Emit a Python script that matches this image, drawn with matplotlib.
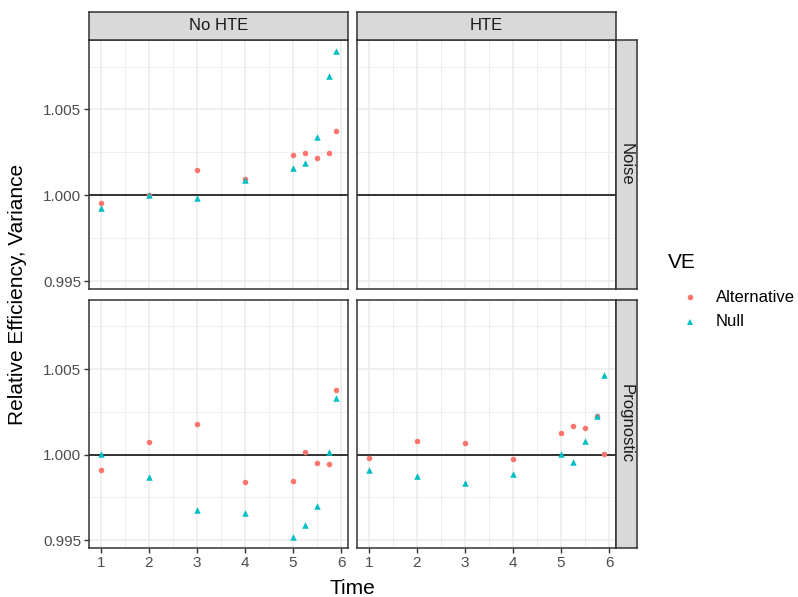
import matplotlib.pyplot as plt
import numpy as np

plt.rcParams['font.family'] = ['Liberation Sans', 'DejaVu Sans']

# time points
time = [1, 2, 3, 4, 5, 5.25, 5.5, 5.75, 5.9]

# No HTE / Noise
noise_nohte_alt = [0.99957, 1.00000, 1.00150, 1.00093, 1.00237, 1.00249, 1.00220, 1.00249, 1.00377]
noise_nohte_null = [0.99924, 1.00000, 0.99986, 1.00088, 1.00161, 1.00189, 1.00339, 1.00697, 1.00839]

# No HTE / Prognostic
prog_nohte_alt = [0.99912, 1.00076, 1.00181, 0.99842, 0.99848, 1.00018, 0.99953, 0.99947, 1.00379]
prog_nohte_null = [1.00004, 0.99868, 0.99675, 0.99660, 0.99520, 0.99586, 0.99697, 1.00018, 1.00330]

# HTE / Prognostic
prog_hte_alt = [0.99982, 1.00082, 1.00070, 0.99977, 1.00128, 1.00169, 1.00158, 1.00224, 1.00006]
prog_hte_null = [0.99912, 0.99875, 0.99837, 0.99885, 1.00006, 0.99959, 1.00078, 1.00224, 1.00469]

col_labels = ['No HTE', 'HTE']
row_labels = ['Noise', 'Prognostic']
red = '#F8766D'
cyan = '#00BFC4'

data = {
    (0, 0): (noise_nohte_alt, noise_nohte_null),
    (0, 1): None,
    (1, 0): (prog_nohte_alt, prog_nohte_null),
    (1, 1): (prog_hte_alt, prog_hte_null),
}

W, H = 798, 597
fig = plt.figure(figsize=(W / 100, H / 100), dpi=100)


def box(x0, y0, x1, y1):
    return [x0 / W, 1 - y1 / H, (x1 - x0) / W, (y1 - y0) / H]


lefts = [89, 357]
rights = [348, 616]
tops = [40, 300]
bottoms = [289, 548]

all_y = noise_nohte_alt + noise_nohte_null + prog_nohte_alt + prog_nohte_null + prog_hte_alt + prog_hte_null
ymin, ymax = min(all_y), max(all_y)
ypad = (ymax - ymin) * 0.05
xpad = (max(time) - min(time)) * 0.05

for r in range(2):
    for c in range(2):
        ax = fig.add_axes(box(lefts[c], tops[r], rights[c], bottoms[r]))
        ax.set_xlim(min(time) - xpad, max(time) + xpad)
        ax.set_ylim(ymin - ypad, ymax + ypad)
        ax.set_xticks([1, 2, 3, 4, 5, 6])
        ax.set_xticks([1.5, 2.5, 3.5, 4.5, 5.5], minor=True)
        ax.set_yticks([0.995, 1.000, 1.005])
        ax.set_yticks([0.9975, 1.0025, 1.0075], minor=True)
        ax.grid(which='major', color='#EBEBEB', linewidth=1.1)
        ax.grid(which='minor', color='#EBEBEB', linewidth=0.55)
        ax.set_axisbelow(True)
        for s in ax.spines.values():
            s.set_color('#333333')
            s.set_linewidth(1.1)
        ax.tick_params(which='minor', length=0)
        ax.tick_params(which='major', length=3.5, width=1, color='#333333',
                       labelsize=11, labelcolor='#4D4D4D', pad=2)
        if r == 0:
            ax.tick_params(labelbottom=False, bottom=False)
        if c == 1:
            ax.tick_params(labelleft=False, left=False)
        else:
            ax.set_yticklabels(['0.995', '1.000', '1.005'])
        ax.axhline(1.0, color='black', linewidth=1.1, zorder=2)
        d = data[(r, c)]
        if d is not None:
            ax.scatter(time, d[0], s=16, color=red, marker='o', linewidths=0, zorder=3)
            ax.scatter(time, d[1], s=22, color=cyan, marker='^', linewidths=0, zorder=3)

# strips on top
for c in range(2):
    sax = fig.add_axes(box(lefts[c], 12, rights[c], 40))
    sax.set_facecolor('#D9D9D9')
    sax.set_xticks([])
    sax.set_yticks([])
    for s in sax.spines.values():
        s.set_color('#333333')
        s.set_linewidth(1.1)
    sax.text(0.5, 0.5, col_labels[c], ha='center', va='center', fontsize=12, color='#1A1A1A')

# strips on right
for r in range(2):
    sax = fig.add_axes(box(616, tops[r], 637, bottoms[r]))
    sax.set_facecolor('#D9D9D9')
    sax.set_xticks([])
    sax.set_yticks([])
    for s in sax.spines.values():
        s.set_color('#333333')
        s.set_linewidth(1.1)
    sax.text(0.5, 0.5, row_labels[r], ha='center', va='center', fontsize=12,
             color='#1A1A1A', rotation=-90)

# axis titles
fig.text(352 / W, 1 - 588 / H, 'Time', ha='center', va='center', fontsize=15)
fig.text(18 / W, 1 - 294 / H, 'Relative Efficiency, Variance', ha='center', va='center',
         fontsize=15, rotation=90)

# legend
fig.text(668 / W, 1 - 263 / H, 'VE', ha='left', va='center', fontsize=15)
fig.lines.append(plt.Line2D([690 / W], [1 - 297 / H], transform=fig.transFigure,
                            marker='o', markersize=4, color=red, markeredgewidth=0, linestyle=''))
fig.lines.append(plt.Line2D([690 / W], [1 - 322 / H], transform=fig.transFigure,
                            marker='^', markersize=4.8, color=cyan, markeredgewidth=0, linestyle=''))
fig.text(716 / W, 1 - 298 / H, 'Alternative', ha='left', va='center', fontsize=12)
fig.text(716 / W, 1 - 322 / H, 'Null', ha='left', va='center', fontsize=12)

plt.savefig('out.png', dpi=100)
